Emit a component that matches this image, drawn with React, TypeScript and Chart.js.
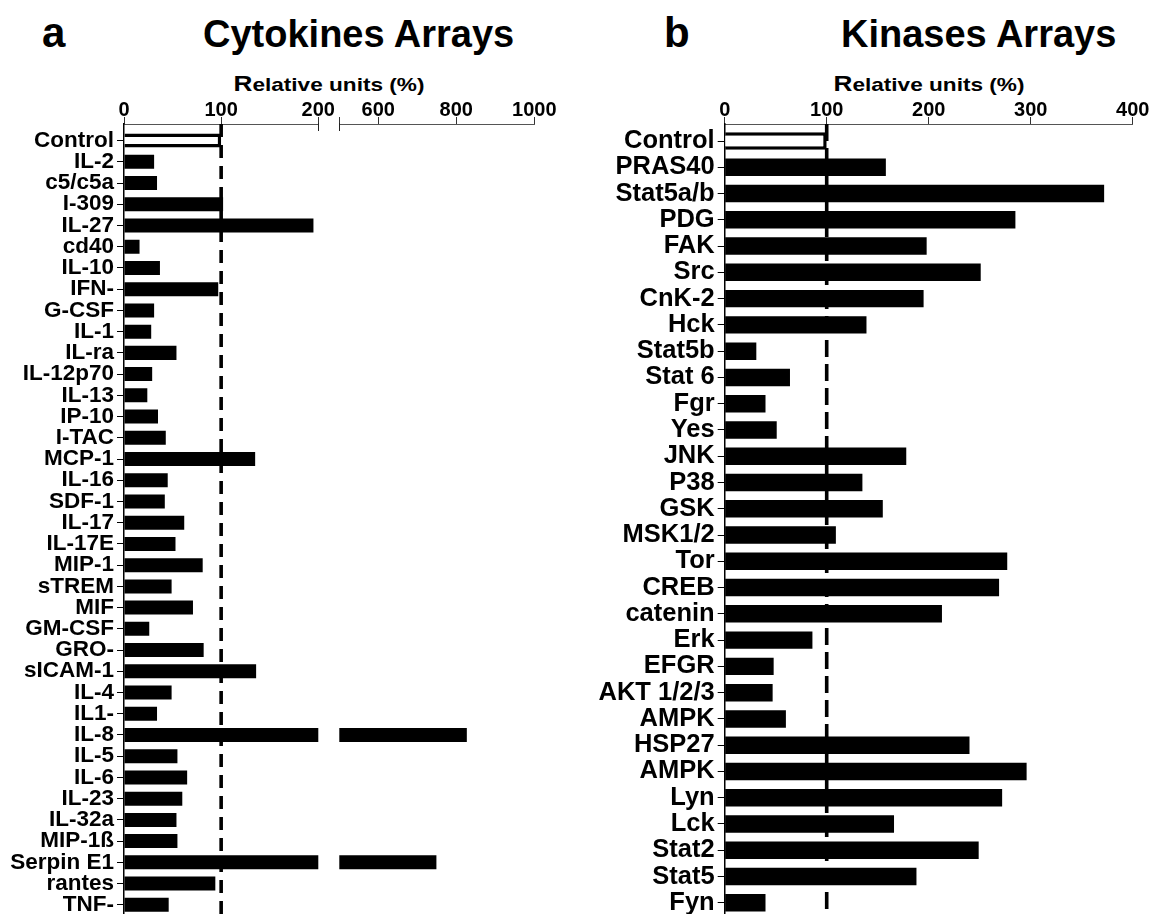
import React, { useEffect, useRef } from 'react';
import { Chart, registerables } from 'chart.js';

Chart.register(...registerables);

// ---------------- data ----------------
const cytokineLabels = [
  'Control', 'IL-2', 'c5/c5a', 'I-309', 'IL-27', 'cd40', 'IL-10', 'IFN-', 'G-CSF', 'IL-1',
  'IL-ra', 'IL-12p70', 'IL-13', 'IP-10', 'I-TAC', 'MCP-1', 'IL-16', 'SDF-1', 'IL-17', 'IL-17E',
  'MIP-1', 'sTREM', 'MIF', 'GM-CSF', 'GRO-', 'sICAM-1', 'IL-4', 'IL1-', 'IL-8', 'IL-5',
  'IL-6', 'IL-23', 'IL-32a', 'MIP-1ß', 'Serpin E1', 'rantes', 'TNF-',
];
const cytokineValues = [
  100, 31, 34, 102, 195, 16, 37, 97, 31, 28,
  54, 29, 24, 35, 43, 135, 45, 42, 62, 53,
  81, 49, 71, 26, 82, 136, 49, 34, 827, 55,
  65, 60, 54, 55, 749, 94, 46,
];
const kinaseLabels = [
  'Control', 'PRAS40', 'Stat5a/b', 'PDG', 'FAK', 'Src', 'CnK-2', 'Hck', 'Stat5b', 'Stat 6',
  'Fgr', 'Yes', 'JNK', 'P38', 'GSK', 'MSK1/2', 'Tor', 'CREB', 'catenin', 'Erk',
  'EFGR', 'AKT 1/2/3', 'AMPK', 'HSP27', 'AMPK', 'Lyn', 'Lck', 'Stat2', 'Stat5', 'Fyn',
];
const kinaseValues = [
  100, 158, 372, 285, 198, 251, 195, 139, 31, 64,
  40, 51, 178, 135, 155, 109, 277, 269, 213, 86,
  48, 47, 60, 240, 296, 272, 166, 249, 188, 40,
];
const cytoLowTicks = [0, 100, 200];
const cytoHighTicks = [500, 600, 800, 1000];
const cytoHiddenTicks = [500];
const kinaseTicks = [0, 100, 200, 300, 400];
const REFERENCE_VALUE = 100;

// ---------------- style ----------------
const FONT = '"Liberation Sans", Arial, Helvetica, sans-serif';
const CANVAS_H = 940;
const PAD_BOTTOM = 20;
const AXIS_TOP = 124;
const PLOT_BOTTOM = CANVAS_H - PAD_BOTTOM;

const refLinePlugin = {
  id: 'refLine',
  afterDatasetsDraw(chart: any, _args: any, opts: any) {
    if (opts == null || opts.value == null) return;
    const xs = chart.scales.x;
    if (opts.value < xs.min || opts.value > xs.max) return;
    const x = xs.getPixelForValue(opts.value);
    const { top, bottom } = chart.chartArea;
    const ctx = chart.ctx;
    ctx.save();
    ctx.strokeStyle = '#000';
    ctx.lineWidth = opts.width || 3.5;
    ctx.setLineDash(opts.dash || [13, 8]);
    ctx.beginPath();
    ctx.moveTo(x, top);
    ctx.lineTo(x, bottom);
    ctx.stroke();
    ctx.restore();
  },
};

const breakPlugin = {
  id: 'axisBreak',
  afterDraw(chart: any, _args: any, opts: any) {
    if (opts == null || !opts.at) return;
    const xs = chart.scales.x;
    const v = opts.at === 'max' ? xs.max : xs.min;
    const x = Math.round(xs.getPixelForValue(v)) + 0.5;
    const y = xs.bottom;
    const ctx = chart.ctx;
    ctx.save();
    ctx.strokeStyle = '#222';
    ctx.lineWidth = 1;
    ctx.beginPath();
    ctx.moveTo(x, y - 1);
    ctx.lineTo(x, y + 7);
    ctx.stroke();
    ctx.restore();
  },
};

type Cfg = {
  labels: string[];
  values: number[];
  xMin: number;
  xMax: number;
  xTicks: number[];
  hidden: number[];
  showY: boolean;
  firstRowPx: number;
  rowPx: number;
  yWidth: number;
  padLeft: number;
  padRight: number;
  dash: number[] | null;
  breakAt: string | null;
  barPct: number;
  labelSize: number;
};

function makeConfig(c: Cfg): any {
  const yMin = -(c.firstRowPx - AXIS_TOP) / c.rowPx;
  const yMax = yMin + (PLOT_BOTTOM - AXIS_TOP) / c.rowPx;
  return {
    type: 'bar',
    data: {
      datasets: [
        {
          data: c.values.map((v, i) => ({ x: v, y: i })),
          backgroundColor: c.values.map((_, i) => (i === 0 ? '#ffffff' : '#000000')),
          borderColor: '#000000',
          borderWidth: c.values.map((_, i) => (i === 0 ? 3.5 : 0)),
          barPercentage: c.barPct,
          categoryPercentage: 1,
          clip: 0,
        },
      ],
    },
    options: {
      indexAxis: 'y',
      animation: false,
      responsive: false,
      maintainAspectRatio: false,
      events: [],
      layout: { padding: { top: 0, bottom: PAD_BOTTOM, left: c.padLeft, right: c.padRight } },
      plugins: {
        legend: { display: false },
        tooltip: { enabled: false },
        refLine: c.dash ? { value: REFERENCE_VALUE, dash: c.dash, width: 3.6 } : {},
        axisBreak: { at: c.breakAt },
      },
      scales: {
        x: {
          type: 'linear',
          position: 'top',
          min: c.xMin,
          max: c.xMax,
          afterBuildTicks: (s: any) => {
            s.ticks = c.xTicks.map((v) => ({ value: v }));
          },
          afterFit: (s: any) => {
            s.height = AXIS_TOP;
          },
          ticks: {
            autoSkip: false,
            maxRotation: 0,
            padding: -5,
            color: '#000',
            font: { family: FONT, weight: 'bold', size: 20 },
            callback: (v: number) => (c.hidden.includes(v) ? '' : String(v)),
          },
          grid: { drawOnChartArea: false, drawTicks: true, tickLength: 7, tickColor: '#333', tickWidth: 1 },
          border: { display: true, color: '#555', width: 1 },
        },
        y: {
          type: 'linear',
          reverse: true,
          offset: false,
          min: yMin,
          max: yMax,
          display: c.showY,
          afterBuildTicks: (s: any) => {
            s.ticks = c.labels.map((_, i) => ({ value: i }));
          },
          afterFit: (s: any) => {
            s.width = c.yWidth;
          },
          ticks: {
            autoSkip: false,
            padding: 3,
            color: '#000',
            font: { family: FONT, weight: 'bold', size: c.labelSize },
            callback: (v: number) => (c.labels[v] !== undefined ? c.labels[v] : ''),
          },
          grid: { offset: false, drawOnChartArea: false, drawTicks: true, tickLength: 7, tickColor: '#000', tickWidth: 1 },
          border: { display: true, color: '#000', width: 1.5 },
        },
      },
    },
    plugins: [refLinePlugin, breakPlugin],
  };
}

function AxisTitle({ center }: { center: number }) {
  return (
    <div
      style={{
        position: 'absolute',
        left: center - 150,
        width: 300,
        top: 74,
        textAlign: 'center',
        fontSize: 19,
        lineHeight: '20px',
        whiteSpace: 'nowrap',
        transform: 'scaleX(1.19)',
        transformOrigin: '50% 50%',
      }}
    >
      <span style={{ fontSize: 22 }}>R</span>elative units (%)
    </div>
  );
}

export default function App() {
  const aLowRef = useRef<HTMLCanvasElement>(null);
  const aHighRef = useRef<HTMLCanvasElement>(null);
  const bRef = useRef<HTMLCanvasElement>(null);

  useEffect(() => {
    const charts: Chart[] = [];
    const aRow = (904.8 - 140.6) / 36;
    const bRow = (902.8 - 141) / 29;
    if (aLowRef.current) {
      charts.push(
        new Chart(
          aLowRef.current,
          makeConfig({
            labels: cytokineLabels,
            values: cytokineValues,
            xMin: 0,
            xMax: 200,
            xTicks: cytoLowTicks,
            hidden: [],
            showY: true,
            firstRowPx: 140.6,
            rowPx: aRow,
            yWidth: 124,
            padLeft: 0,
            padRight: 345 - 318.3,
            dash: [13, 8],
            breakAt: 'max',
            barPct: 0.66,
            labelSize: 22.5,
          })
        )
      );
    }
    if (aHighRef.current) {
      charts.push(
        new Chart(
          aHighRef.current,
          makeConfig({
            labels: cytokineLabels,
            values: cytokineValues,
            xMin: 500,
            xMax: 1000,
            xTicks: cytoHighTicks,
            hidden: cytoHiddenTicks,
            showY: false,
            firstRowPx: 140.6,
            rowPx: aRow,
            yWidth: 0,
            padLeft: 339.3 - 329,
            padRight: 232 - (534.3 - 329),
            dash: null,
            breakAt: 'min',
            barPct: 0.66,
            labelSize: 22.5,
          })
        )
      );
    }
    if (bRef.current) {
      charts.push(
        new Chart(
          bRef.current,
          makeConfig({
            labels: kinaseLabels,
            values: kinaseValues,
            xMin: 0,
            xMax: 400,
            xTicks: kinaseTicks,
            hidden: [],
            showY: true,
            firstRowPx: 141,
            rowPx: bRow,
            yWidth: 724.7 - 590,
            padLeft: 0,
            padRight: 568 - (1132.7 - 590),
            dash: [17, 7],
            breakAt: null,
            barPct: 0.665,
            labelSize: 25.5,
          })
        )
      );
    }
    return () => {
      charts.forEach((ch) => ch.destroy());
    };
  }, []);

  const titleStyle: React.CSSProperties = {
    position: 'absolute',
    top: 14.8,
    fontSize: 38,
    lineHeight: 1,
    whiteSpace: 'nowrap',
  };

  return (
    <div
      style={{
        position: 'absolute',
        left: 0,
        top: 0,
        width: 1161,
        height: 914,
        overflow: 'hidden',
        background: '#fff',
        color: '#000',
        fontFamily: FONT,
        fontWeight: 'bold',
      }}
    >
      <div style={{ ...titleStyle, left: 42, fontSize: 42, top: 11.5 }}>a</div>
      <div style={{ ...titleStyle, left: 203 }}>Cytokines Arrays</div>
      <div style={{ ...titleStyle, left: 664, fontSize: 42, top: 11.5 }}>b</div>
      <div style={{ ...titleStyle, left: 841 }}>Kinases Arrays</div>
      <AxisTitle center={329} />
      <AxisTitle center={928.7} />
      <canvas ref={aLowRef} width={345} height={CANVAS_H} style={{ position: 'absolute', left: 0, top: 0 }} />
      <canvas ref={aHighRef} width={232} height={CANVAS_H} style={{ position: 'absolute', left: 329, top: 0 }} />
      <canvas ref={bRef} width={568} height={CANVAS_H} style={{ position: 'absolute', left: 590, top: 0 }} />
    </div>
  );
}
